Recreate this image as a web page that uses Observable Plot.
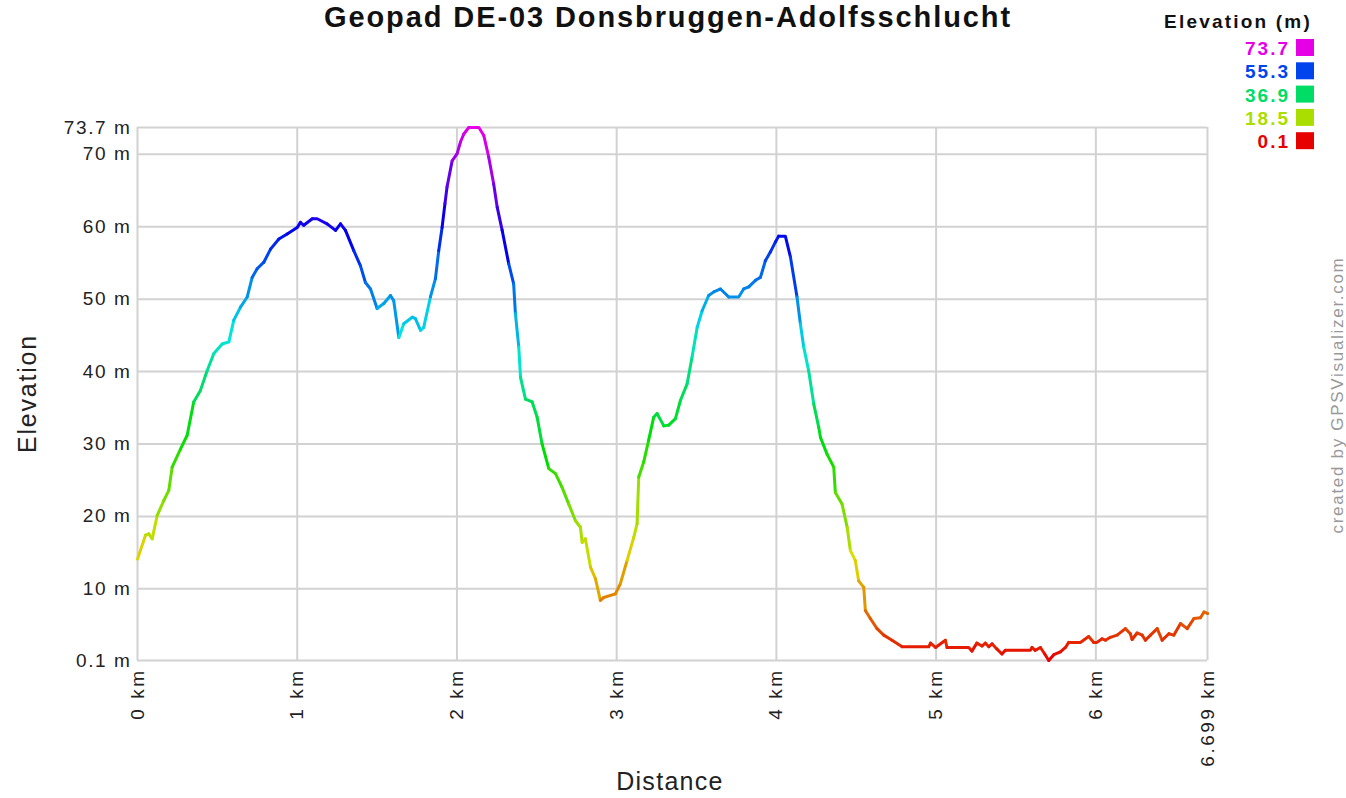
<!DOCTYPE html>
<html>
<head>
<meta charset="utf-8">
<script src="https://cdn.jsdelivr.net/npm/d3@7"></script>
<script src="https://cdn.jsdelivr.net/npm/@observablehq/plot@0.6"></script>
<style>
  html, body { margin: 0; padding: 0; background: #fff; }
  #wrap { position: relative; width: 1346px; height: 798px; overflow: hidden; font-family: "Liberation Sans", Arial, sans-serif; }
  #wrap > svg { position: absolute; left: 0; top: 0; }
  g[aria-label="y-axis tick label"] text { letter-spacing: 1.6px; }
  g[aria-label="x-axis tick label"] text { letter-spacing: 2.5px; }
</style>
</head>
<body>
<div id="wrap"></div>
<script>
// Distance along the track (km)
const distKm = [
  0.000,0.050,0.071,0.092,0.123,0.165,0.196,0.217,0.269,0.311,0.352,0.394,0.436,0.478,0.530,0.572,0.603,0.645,0.687,0.718,
  0.749,0.791,0.833,0.885,0.937,1.000,1.020,1.041,1.094,1.125,1.187,1.240,1.271,1.302,1.354,1.396,1.427,1.459,1.500,1.542,
  1.584,1.604,1.636,1.667,1.720,1.740,1.772,1.792,1.834,1.865,1.886,1.907,1.925,1.938,1.970,2.001,2.022,2.043,2.074,2.137,
  2.168,2.199,2.230,2.252,2.283,2.324,2.355,2.366,2.387,2.398,2.429,2.471,2.502,2.533,2.575,2.617,2.658,2.700,2.742,2.773,
  2.784,2.804,2.836,2.867,2.898,2.919,2.992,3.023,3.065,3.107,3.128,3.138,3.169,3.200,3.232,3.253,3.295,3.326,3.368,3.399,
  3.441,3.472,3.504,3.535,3.576,3.608,3.650,3.702,3.764,3.795,3.827,3.869,3.900,3.931,3.962,3.994,4.014,4.056,4.088,4.129,
  4.150,4.171,4.202,4.234,4.265,4.276,4.317,4.359,4.369,4.411,4.443,4.463,4.494,4.515,4.547,4.557,4.588,4.630,4.672,4.724,
  4.787,4.954,4.965,4.996,5.058,5.068,5.204,5.224,5.255,5.287,5.308,5.330,5.350,5.380,5.412,5.433,5.590,5.600,5.620,5.653,
  5.680,5.705,5.737,5.778,5.810,5.830,5.903,5.955,5.987,6.007,6.039,6.060,6.091,6.133,6.185,6.216,6.227,6.258,6.290,6.310,
  6.342,6.384,6.415,6.457,6.488,6.530,6.572,6.614,6.655,6.677,6.699
];
// Elevation (m)
const elevM = [
  14.1,17.4,17.6,16.9,20.1,22.2,23.6,26.8,29.3,31.2,35.8,37.4,40.1,42.5,43.8,44.1,47.1,48.9,50.3,53.0,
  54.2,55.1,56.9,58.3,59.0,59.9,60.6,60.2,61.1,61.1,60.4,59.5,60.4,59.5,56.7,54.6,52.3,51.4,48.7,49.4,
  50.5,49.8,44.7,46.6,47.5,47.3,45.7,46.1,50.3,52.8,56.7,59.9,63.2,65.5,69.1,70.1,71.7,72.8,73.7,73.7,
  72.6,69.6,65.9,62.7,59.5,54.9,52.1,48.0,43.4,39.2,36.2,35.8,33.7,30.0,26.6,25.9,24.0,21.7,19.4,18.5,
  16.4,16.9,13.0,11.4,8.4,8.8,9.3,10.7,13.9,17.1,19.0,25.4,27.5,30.5,33.7,34.2,32.5,32.6,33.5,36.0,
  38.3,42.0,46.1,48.4,50.5,51.0,51.4,50.3,50.3,51.4,51.7,52.6,53.0,55.3,56.5,57.9,58.7,58.7,55.8,50.3,
  46.6,43.4,40.1,35.5,32.3,30.9,28.6,26.8,23.3,21.7,18.5,15.3,13.9,11.1,10.2,7.0,5.9,4.5,3.6,2.9,
  2.0,2.0,2.5,1.9,2.9,1.9,1.9,1.4,2.5,2.1,2.5,2.0,2.4,1.7,1.0,1.5,1.5,1.9,1.5,1.9,
  1.0,0.1,0.9,1.3,1.9,2.6,2.6,3.4,2.6,2.6,3.1,2.9,3.3,3.6,4.5,3.8,3.0,3.9,3.6,2.9,
  3.6,4.5,2.9,3.8,3.6,5.2,4.5,5.9,6.0,6.8,6.6
];
const yTicks = [0.1, 10, 20, 30, 40, 50, 60, 70, 73.7];
const xTicks = [0, 1, 2, 3, 4, 5, 6, 6.699];
const legendValues = [73.7, 55.3, 36.9, 18.5, 0.1];
const legendColors = ["#e600e6", "#0044ee", "#00dd66", "#aadd00", "#e60000"];

const titleText = "Geopad DE-03 Donsbruggen-Adolfsschlucht";
const legendTitle = "Elevation (m)";
const yLabel = "Elevation";
const xLabel = "Distance";
const credit = "created by GPSVisualizer.com";

const points = distKm.map((d, i) => ({d, e: elevM[i]}));

const plot = Plot.plot({
  width: 1346,
  height: 798,
  marginLeft: 137,
  marginRight: 139,
  marginTop: 127,
  marginBottom: 138,
  style: {fontFamily: '"Liberation Sans", Arial, sans-serif', fontSize: "19px", color: "#222", background: "transparent"},
  x: {domain: [0, 6.699]},
  y: {domain: [0.1, 73.7]},
  color: {type: "linear", domain: legendValues.slice().reverse(), range: legendColors.slice().reverse(), interpolate: "hsl"},
  marks: [
    Plot.gridY(yTicks, {stroke: "#d2d2d2", strokeOpacity: 1, strokeWidth: 2}),
    Plot.gridX(xTicks, {stroke: "#d2d2d2", strokeOpacity: 1, strokeWidth: 2}),
    Plot.axisY(yTicks, {tickSize: 0, tickPadding: 6, tickFormat: d => d + " m", label: null, fill: "#222"}),
    Plot.axisX(xTicks, {tickSize: 0, tickPadding: 8, tickRotate: -90, tickFormat: d => d + " km", label: null, fill: "#222"}),
    Plot.line(points, {x: "d", y: "e", z: null, stroke: "e", strokeWidth: 3, strokeLinejoin: "round", strokeLinecap: "round"})
  ]
});

const wrap = document.getElementById("wrap");
wrap.appendChild(plot);

const color = plot.scale("color");
const ov = d3.select(wrap).append("svg")
  .attr("width", 1346).attr("height", 798)
  .style("pointer-events", "none")
  .attr("font-family", '"Liberation Sans", Arial, sans-serif');

ov.append("text").attr("x", 668).attr("y", 27).attr("text-anchor", "middle")
  .attr("font-size", 29).attr("font-weight", "bold").style("letter-spacing", "1.9px").attr("fill", "#111")
  .text(titleText);

ov.append("text").attr("x", 1312).attr("y", 28).attr("text-anchor", "end")
  .attr("font-size", 19).attr("font-weight", "bold").style("letter-spacing", "2.2px").attr("fill", "#111")
  .text(legendTitle);

legendValues.forEach((v, i) => {
  const by = 55 + i * 23.3;
  ov.append("text").attr("x", 1290).attr("y", by).attr("text-anchor", "end")
    .attr("font-size", 19).attr("font-weight", "bold").style("letter-spacing", "2px")
    .attr("fill", color.apply(v)).text(String(v));
  ov.append("rect").attr("x", 1296).attr("y", by - 16).attr("width", 18).attr("height", 17)
    .attr("fill", color.apply(v));
});

ov.append("text").attr("transform", "translate(36,393.5) rotate(-90)").attr("text-anchor", "middle")
  .attr("font-size", 25).style("letter-spacing", "1.8px").attr("fill", "#222").text(yLabel);

ov.append("text").attr("x", 670).attr("y", 790).attr("text-anchor", "middle")
  .attr("font-size", 25).style("letter-spacing", "1.3px").attr("fill", "#222").text(xLabel);

ov.append("text").attr("transform", "translate(1343,395) rotate(-90)").attr("text-anchor", "middle")
  .attr("font-size", 17).style("letter-spacing", "1.7px").attr("fill", "#999").text(credit);
</script>
</body>
</html>
